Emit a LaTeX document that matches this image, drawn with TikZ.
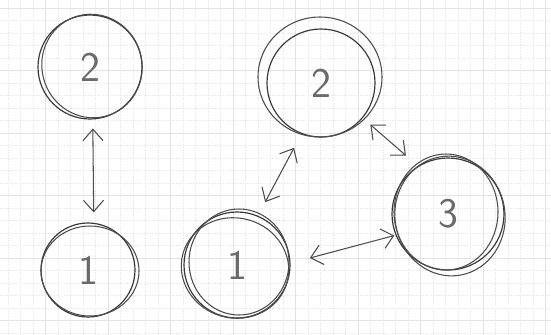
\documentclass[tikz,border=0pt]{standalone}
\usepackage{xcolor}
\usetikzlibrary{arrows.meta}
\definecolor{ink}{HTML}{383838}
\definecolor{paper}{HTML}{FFFFFF}
\tikzset{
    sketch node/.style = {circle, draw=ink, line width=1pt, text=ink!75,
        font=\fontsize{36}{40}\selectfont\sffamily},
    sketch stroke/.style = {draw=ink!90, line width=0.9pt},
    sketch edge/.style = {draw=ink!90, line width=0.9pt,
        {Straight Barb[length=3.4mm, width=6mm]}-{Straight Barb[length=3.4mm, width=6mm]}},
    minor line/.style = {draw=black!8, line width=0.6pt, dash pattern=on 1.6pt off 0.9pt},
    major line/.style = {draw=black!11, line width=0.8pt},
}

\begin{document}
\begin{tikzpicture}[x=0.3mm, y=-0.3mm]
                \useasboundingbox[fill=paper] (0,0) rectangle (551,334);

                % squared paper
                \foreach \k in {0,...,43}
                    \draw[minor line] ({8.3+12.5*\k},0) -- ({8.3+12.5*\k},334);
                \foreach \k in {0,...,26}
                    \draw[minor line] (0,{8.3+12.5*\k}) -- (551,{8.3+12.5*\k});
                \foreach \k in {0,...,8}
                    \draw[major line] ({45.8+62.5*\k},0) -- ({45.8+62.5*\k},334);
                \foreach \k in {0,...,5}
                    \draw[major line] (0,{8.3+62.5*\k}) -- (551,{8.3+62.5*\k});

                % left pair
                \node[sketch node, minimum size=31.2mm] (a2) at (90, 67) {2};
                \node[sketch node, minimum size=28.2mm] (a1) at (88, 270) {1};

                % right triangle
                \node[sketch node, minimum size=31.8mm] (b1) at (237, 265) {1};
                \node[sketch node, minimum size=32.4mm] (b2) at (321, 83) {2};
                \node[sketch node, minimum size=33.6mm] (b3) at (448, 214) {3};

                % extra pencil strokes
                \draw[sketch stroke] (92, 66) ellipse [x radius=50, y radius=52, rotate=20];
                \draw[sketch stroke] (90, 271) ellipse [x radius=49, y radius=45];
                \draw[sketch stroke] (235, 268) ellipse [x radius=54, y radius=50, rotate=-15];
                \draw[sketch stroke] (239, 262) ellipse [x radius=50, y radius=53];
                \draw[sketch stroke] (320, 77) ellipse [x radius=62, y radius=60];
                \draw[sketch stroke] (450, 216) ellipse [x radius=55, y radius=60, rotate=10];
                \draw[sketch stroke] (446, 212) ellipse [x radius=52, y radius=58];

                \draw[sketch edge, shorten <=3.1mm, shorten >=2.7mm] (a1.83) -- (a2.273);
                \draw[sketch edge, shorten <=4.6mm, shorten >=4.7mm] (b1.67) -- (b2.249);
                \draw[sketch edge, shorten <=3mm, shorten >=4.8mm] (b2.320) -- (b3.122);
                \draw[sketch edge, shorten <=6mm, shorten >=0.4mm] (b1.2) -- (b3.202);
\end{tikzpicture}
\end{document}
